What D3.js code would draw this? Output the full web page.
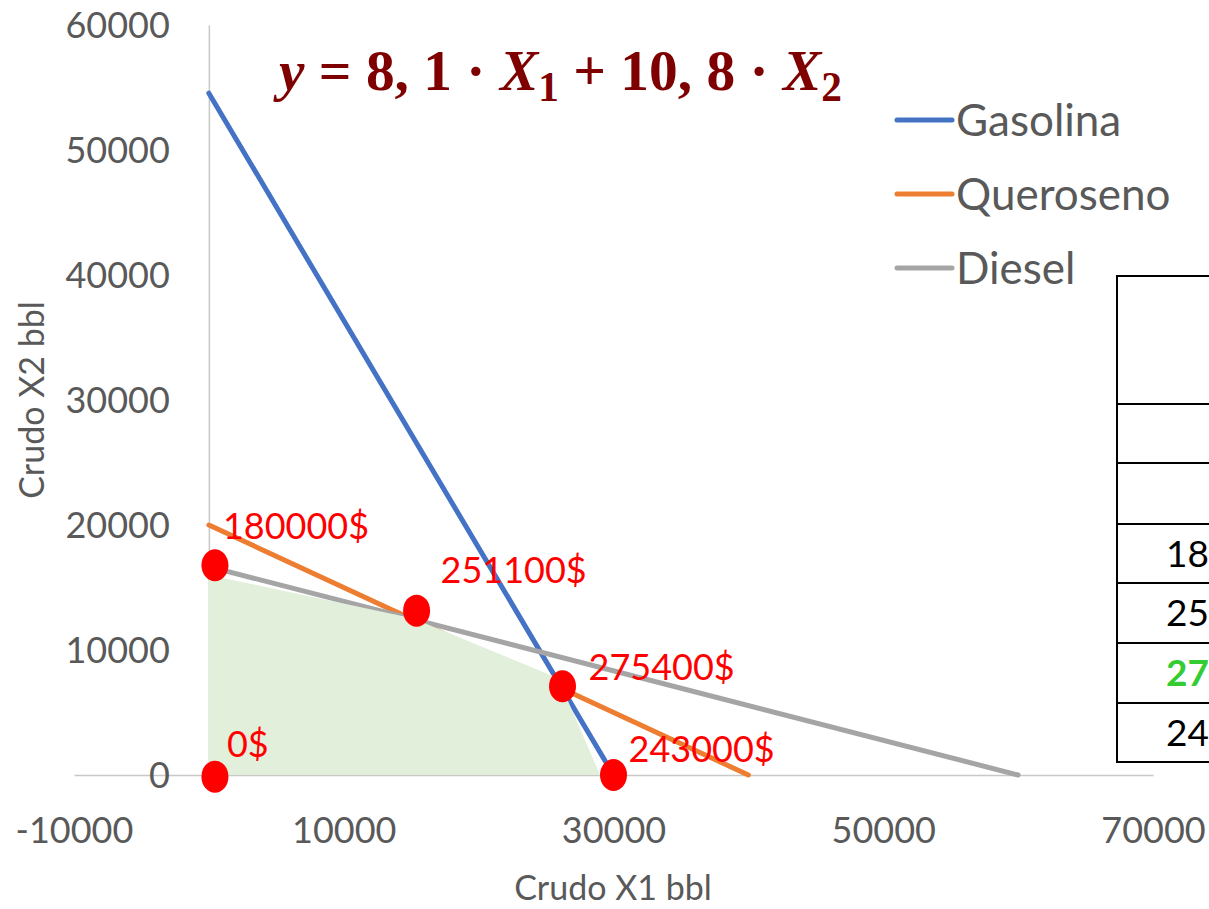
<!DOCTYPE html>
<html>
<head>
<meta charset="utf-8">
<script src="https://cdn.jsdelivr.net/npm/d3@7"></script>
<style>
  body { margin: 0; background: #fff; }
  svg { display: block; }
</style>
</head>
<body>
<div class="graphic"></div>
<script>
// chart values
var xTicks = [-10000, 10000, 30000, 50000, 70000];
var yTicks = [0, 10000, 20000, 30000, 40000, 50000, 60000];
var seriesNames = ["Gasolina", "Queroseno", "Diesel"];
var gasolina = [[0, 54545], [30000, 0]];
var queroseno = [[0, 20000], [40000, 0]];
var diesel = [[0, 16667], [60000, 0]];
var region = [[0, 0], [0, 16000], [15100, 12550], [25900, 7750], [29000, 0]];
var vertices = [[450, 16780], [450, -130], [15400, 13150], [26220, 7100], [30000, 0]];
var vertexLabels = ["180000$", "0$", "251100$", "275400$", "243000$"];
var tableValues = ["180000$", "251100$", "275400$", "243000$"];
var bestValue = "275400$";

var width = 1209;
var height = 909;
var svg = d3.select("div.graphic").append("svg")
	.attr("width", width)
	.attr("height", height);

var x = d3.scaleLinear().domain([-10000, 70000]).range([74, 1153]);
var y = d3.scaleLinear().domain([0, 60000]).range([775, 25]);
var line = d3.line().x(function(d){ return x(d[0]); }).y(function(d){ return y(d[1]); });

var colors = ["#4472C4", "#ED7D31", "#A5A5A5"];
var font = "Lato, 'Open Sans', sans-serif";

// axes
var xAxis = d3.axisBottom(x).tickValues(xTicks).tickSize(0).tickPadding(0).tickFormat(function(d){ return String(d); });
var gx = svg.append("g").attr("transform", "translate(0," + y(0) + ")").call(xAxis);
gx.select(".domain").attr("stroke", "#c8c8c8").attr("stroke-width", 1.5);
gx.selectAll("text").attr("dy", null).attr("y", 68)
	.style("font-family", font).style("font-size", "36px").attr("fill", "#595959");

var yAxis = d3.axisLeft(y).tickValues(yTicks).tickSize(0).tickPadding(0).tickFormat(function(d){ return String(d); });
var gy = svg.append("g").attr("transform", "translate(" + x(0) + ",0)").call(yAxis);
gy.select(".domain").attr("stroke", "#c8c8c8").attr("stroke-width", 1.5);
gy.selectAll("text").attr("x", -39).attr("dy", "0.36em")
	.style("font-family", font).style("font-size", "36px").attr("fill", "#595959");

svg.append("text").attr("x", 613).attr("y", 900).attr("text-anchor", "middle")
	.style("font-family", font).style("font-size", "34px").attr("fill", "#595959")
	.text("Crudo X1 bbl");
svg.append("text").attr("transform", "translate(44,400) rotate(-90)").attr("text-anchor", "middle")
	.style("font-family", font).style("font-size", "34px").attr("fill", "#595959")
	.text("Crudo X2 bbl");

// constraint lines
var lines = svg.append("g");
[gasolina, queroseno, diesel].forEach(function(s, i){
	lines.append("path").attr("d", line(s))
		.attr("fill", "none").attr("stroke", colors[i]).attr("stroke-width", 5)
		.attr("stroke-linecap", "round");
});

// feasible region (drawn over the lines like the original shape)
svg.append("path").attr("d", line(region) + "Z").attr("fill", "#E2EFDA");

// vertices and their values
var offsets = [[8, -26], [12, -20], [24, -28], [26, -6], [15, -13]];
var pts = svg.append("g");
pts.selectAll("ellipse").data(vertices).enter().append("ellipse")
	.attr("cx", function(d){ return x(d[0]); })
	.attr("cy", function(d){ return y(d[1]); })
	.attr("rx", 13.5).attr("ry", 16).attr("fill", "#FF0000");
pts.selectAll("text").data(vertices).enter().append("text")
	.attr("x", function(d, i){ return x(d[0]) + offsets[i][0]; })
	.attr("y", function(d, i){ return y(d[1]) + offsets[i][1]; })
	.style("font-family", font).style("font-size", "36px").attr("fill", "#FF0000")
	.text(function(d, i){ return vertexLabels[i]; });

// legend
var legend = svg.append("g");
seriesNames.forEach(function(name, i){
	var ly = 120 + i * 74;
	legend.append("line").attr("x1", 897).attr("x2", 952).attr("y1", ly).attr("y2", ly)
		.attr("stroke", colors[i]).attr("stroke-width", 5).attr("stroke-linecap", "round");
	legend.append("text").attr("x", 956).attr("y", ly).attr("dy", "0.36em")
		.style("font-family", font).style("font-size", "44px").attr("fill", "#595959")
		.text(name);
});

// objective function
var f = svg.append("text").attr("x", 279).attr("y", 90)
	.attr("xml:space", "preserve").style("white-space", "pre")
	.style("font-family", "'Liberation Serif', serif").style("font-size", "50px")
	.style("font-weight", "bold").attr("fill", "#7F0000");
var parts = [
	["y", "italic", 0], [" = ", "normal", 0], ["8, 1", "normal", 0], [" · ", "normal", 0],
	["X", "italic", 0], ["1", "normal", 1], [" + ", "normal", 0], ["10, 8", "normal", 0],
	[" · ", "normal", 0], ["X", "italic", 0], ["2", "normal", 1]
];
parts.forEach(function(p, i){
	var t = f.append("tspan").style("font-style", p[1]).text(p[0]);
	if (p[2]) t.attr("dy", 11).style("font-size", "36px");
	else if (i > 0 && parts[i-1][2]) t.attr("dy", -11);
});
var fw = f.node().getComputedTextLength();
f.style("font-size", (50 * 563 / fw) + "px");
f.selectAll("tspan").filter(function(d, i){ return parts[i][2]; })
	.style("font-size", (36 * 563 / fw) + "px");

// table at the right edge
var rows = [276, 404, 463, 524, 583, 643, 703, 762];
var table = svg.append("g");
table.append("line").attr("x1", 1117).attr("x2", 1117).attr("y1", rows[0]).attr("y2", rows[rows.length-1])
	.attr("stroke", "#000").attr("stroke-width", 2);
rows.forEach(function(r){
	table.append("line").attr("x1", 1116).attr("x2", 1260).attr("y1", r).attr("y2", r)
		.attr("stroke", "#000").attr("stroke-width", 2);
});
tableValues.forEach(function(v, i){
	var top = rows[3 + i], bottom = rows[4 + i];
	table.append("text").attr("x", 1166).attr("y", (top + bottom) / 2).attr("dy", "0.36em")
		.style("font-family", font).style("font-size", "37px")
		.style("font-weight", v == bestValue ? "bold" : "normal")
		.attr("fill", v == bestValue ? "#33CC33" : "#000")
		.text(v);
});
</script>
</body>
</html>
